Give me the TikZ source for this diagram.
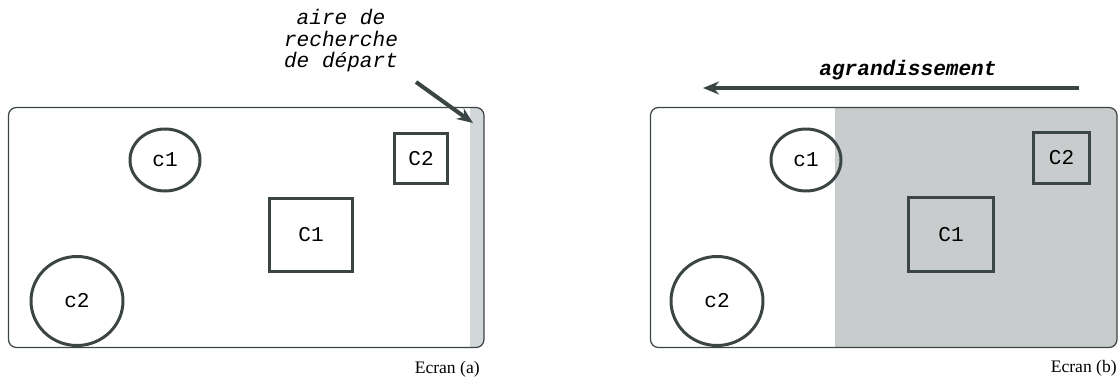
\documentclass[tikz,border=0pt]{standalone}
\usepackage{xcolor}
\usepackage{fontspec}
\setmainfont{Liberation Serif}
\setmonofont{Liberation Mono}
\usepackage{tikz}
\usetikzlibrary{arrows.meta,shapes.geometric}

\definecolor{ink}{HTML}{3B4543}
\definecolor{zone}{HTML}{C8CCCC}
\definecolor{strip}{HTML}{D2D7D9}

\begin{document}
\begin{tikzpicture}[
  x=0.02cm, y=-0.02cm,
  screen/.style={draw=ink, line width=0.7pt, rounded corners=0.16cm},
  comp/.style={draw=ink, line width=1.7pt, ellipse, inner sep=0pt, font=\ttfamily\fontsize{12}{12}\selectfont},
  cont/.style={draw=ink, line width=1.7pt, rectangle, inner sep=0pt, font=\ttfamily\fontsize{12}{12}\selectfont},
  note/.style={inner sep=0pt, align=center, font=\ttfamily\itshape\fontsize{12}{12.2}\selectfont},
  caption/.style={inner sep=0pt, anchor=base east, font=\fontsize{10}{12}\selectfont},
  arrow/.style={-{Stealth[length=0.32cm, width=0.26cm]}, line width=2.3pt, draw=ink}
]
  \useasboundingbox (0,0) rectangle (1119,378);

  % Ecran (a)
  \begin{scope}
    \clip[rounded corners=0.16cm] (8.5,107.5) rectangle (484,347.5);
    \fill[strip] (470,100) rectangle (490,355);
  \end{scope}
  \draw[screen] (8.5,107.5) rectangle (484,347.5);
  \node[comp, minimum width=1.4cm, minimum height=1.24cm] (c1a) at (165,160) {c1};
  \node[comp, minimum width=1.84cm, minimum height=1.78cm] (c2a) at (77,301) {c2};
  \node[cont, minimum width=1.66cm, minimum height=1.46cm] (C1a) at (311,235) {C1};
  \node[cont, minimum width=1.06cm, minimum height=1.0cm] (C2a) at (421,158.5) {C2};
  \node[caption] (ecrana) at (480,373) {Ecran (a)};

  \node[note, anchor=north] (search) at (341,9) {aire de\\recherche\\de départ};
  \coordinate (searchfrom) at (416,82);
  \coordinate (searchto) at (473,123);
  \draw[arrow] (searchfrom) -- (searchto);

  % Ecran (b)
  \begin{scope}
    \clip[rounded corners=0.16cm] (650.5,107.5) rectangle (1117,347.5);
    \fill[zone] (835,100) rectangle (1125,355);
  \end{scope}
  \draw[screen] (650.5,107.5) rectangle (1117,347.5);
  \node[comp, minimum width=1.4cm, minimum height=1.24cm] (c1b) at (806,160) {c1};
  \node[comp, minimum width=1.84cm, minimum height=1.78cm] (c2b) at (717,301) {c2};
  \node[cont, minimum width=1.7cm, minimum height=1.48cm] (C1b) at (951,234.5) {C1};
  \node[cont, minimum width=1.12cm, minimum height=1.02cm] (C2b) at (1061.5,158) {C2};
  \node[caption] (ecranb) at (1117,372) {Ecran (b)};

  \node[note, anchor=base, font=\ttfamily\bfseries\itshape\fontsize{12}{12.2}\selectfont] (grow) at (908,76) {agrandissement};
  \coordinate (growfrom) at (1079,88);
  \coordinate (growto) at (703,88);
  \draw[arrow] (growfrom) -- (growto);
\end{tikzpicture}
\end{document}
